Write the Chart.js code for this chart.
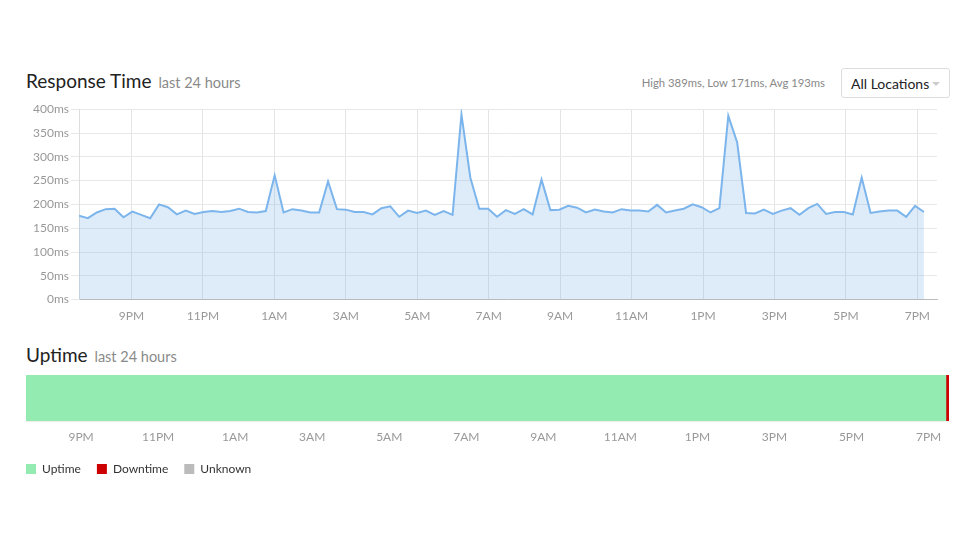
<!DOCTYPE html>
<html>
<head>
<meta charset="utf-8">
<script src="https://cdn.jsdelivr.net/npm/chart.js@4.4.1/dist/chart.umd.min.js"></script>
<style>
body { margin: 0; background: #fff; font-family: Lato, "Open Sans", sans-serif; width: 970px; height: 545px; position: relative; overflow: hidden; }
.titre { position: absolute; left: 26px; font-size: 19px; color: #222; white-space: nowrap; }
.titre span { font-size: 14.5px; color: #8a8a8a; margin-left: 2px; }
#stats { position: absolute; left: 600px; width: 225px; top: 76px; text-align: right; font-size: 11.3px; color: #888; }
#lieux { position: absolute; left: 841px; top: 68px; width: 109px; height: 30px; border: 1px solid #ddd; border-radius: 3px; box-sizing: border-box; font-size: 14px; color: #222; line-height: 29px; padding-left: 9px; }
#lieux i { position: absolute; right: 9px; top: 13px; width: 0; height: 0; border-left: 4px solid transparent; border-right: 4px solid transparent; border-top: 4px solid #ccc; }
#cadre1 { position: absolute; left: 0; top: 104px; width: 970px; height: 234px; overflow: hidden; }
#cadre1 canvas { position: absolute; left: 0; top: -4px; }
#cadre2 { position: absolute; left: 0; top: 365px; width: 970px; height: 130px; }
</style>
</head>
<body>
<div class="titre" style="top:69px">Response Time <span>last 24 hours</span></div>
<div id="stats">High 389ms, Low 171ms, Avg 193ms</div>
<div id="lieux">All Locations<i></i></div>
<div id="cadre1"><canvas id="tempsReponse" width="950" height="232"></canvas></div>
<div class="titre" style="top:343px">Uptime <span>last 24 hours</span></div>
<div id="cadre2"><canvas id="disponibilite" width="970" height="120"></canvas></div>
<script>
// Temps de réponse (ms), un relevé toutes les 15 minutes environ
const tempsReponse = [
    176, 171, 183, 190, 191, 173, 185, 178, 171, 200, 194, 179, 187, 180, 184, 186,
    184, 186, 191, 184, 183, 186, 261, 183, 190, 187, 183, 183, 248, 190, 189, 184,
    184, 179, 192, 196, 174, 187, 182, 187, 178, 186, 178, 389, 256, 191, 191, 174,
    188, 180, 190, 179, 252, 188, 189, 197, 193, 183, 189, 185, 183, 190, 187, 187,
    185, 199, 183, 187, 191, 200, 194, 183, 192, 386, 330, 182, 181, 189, 180, 187,
    192, 178, 192, 201, 180, 184, 184, 179, 256, 182, 185, 187, 187, 174, 197, 184
];
const debutReleves = 19.53; // heure du premier relevé (19h32)
const pasReleves = 0.249;   // ~15 minutes

// Graduations de l'axe du temps (heures, le lendemain = 24 + h)
const heuresTicks = [21, 23, 25, 27, 29, 31, 33, 35, 37, 39, 41, 43];
const etiquettesTicks = ['9PM', '11PM', '1AM', '3AM', '5AM', '7AM', '9AM', '11AM', '1PM', '3PM', '5PM', '7PM'];

// Plages de disponibilité [début, fin] en heures
const plagesUptime = [[19.57, 43.45]];
const plagesDowntime = [[43.45, 43.53]];
const plagesUnknown = [];

const pointsReponse = tempsReponse.map((v, i) => ({ x: debutReleves + i * pasReleves, y: v }));

function axeTemps(min, max, padding) {
    return {
        type: 'linear',
        min: min,
        max: max,
        afterBuildTicks: axe => { axe.ticks = heuresTicks.map(h => ({ value: h })); },
        ticks: {
            callback: (v, i) => etiquettesTicks[i],
            autoSkip: false,
            maxRotation: 0,
            color: '#999',
            font: { family: 'Lato', size: 12 },
            padding: padding
        }
    };
}

// Graphique du temps de réponse
const axeX1 = axeTemps(19.53, 43.55, 9);
axeX1.grid = { color: '#e4e4e4', drawTicks: false };
axeX1.border = { color: '#bbb' };

new Chart(document.getElementById('tempsReponse'), {
    type: 'line',
    data: {
        datasets: [{
            data: pointsReponse,
            borderColor: '#7cb5ec',
            backgroundColor: 'rgba(124, 181, 236, 0.25)',
            borderWidth: 2,
            fill: 'origin',
            pointRadius: 0,
            tension: 0
        }]
    },
    options: {
        responsive: false,
        animation: false,
        layout: { padding: { right: 13 } },
        plugins: { legend: { display: false }, tooltip: { enabled: false } },
        scales: {
            x: axeX1,
            y: {
                min: 0,
                max: 400,
                ticks: { stepSize: 50, callback: v => v + 'ms', color: '#999', font: { family: 'Lato', size: 12 }, padding: 2 },
                grid: { color: '#e8e8e8', tickLength: 8 },
                border: { color: '#ddd' },
                afterFit: axe => { axe.width = 79; }
            }
        }
    }
});

// Barre de disponibilité
const axeX2 = axeTemps(19.57, 43.53, 9);
axeX2.grid = { display: false, drawTicks: false };
axeX2.border = { color: '#eee' };
axeX2.afterFit = axe => { axe.height = 26; };

new Chart(document.getElementById('disponibilite'), {
    type: 'bar',
    data: {
        labels: ['24h'],
        datasets: [
            { label: 'Uptime', data: plagesUptime, backgroundColor: '#93ebb2' },
            { label: 'Downtime', data: plagesDowntime, backgroundColor: '#cc0000' },
            { label: 'Unknown', data: plagesUnknown, backgroundColor: '#bbbbbb' }
        ]
    },
    options: {
        responsive: false,
        animation: false,
        indexAxis: 'y',
        datasets: { bar: { grouped: false, categoryPercentage: 1, barPercentage: 1, borderWidth: 0 } },
        layout: { padding: { left: 10, right: 21, top: 10 } },
        plugins: {
            tooltip: { enabled: false },
            legend: {
                position: 'bottom',
                align: 'start',
                labels: { boxWidth: 10, boxHeight: 10, padding: 16, color: '#333', font: { family: 'Lato', size: 12 } }
            }
        },
        scales: {
            x: axeX2,
            y: {
                ticks: { display: false },
                grid: { display: false, drawTicks: false },
                border: { display: false },
                afterFit: axe => { axe.width = 16; }
            }
        }
    }
});
</script>
</body>
</html>
